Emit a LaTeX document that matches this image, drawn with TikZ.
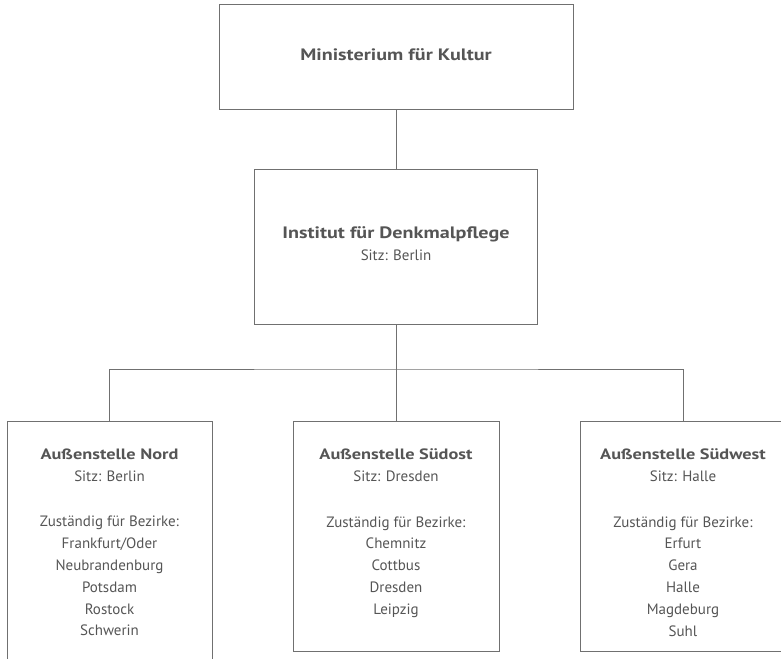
\documentclass[tikz,border=0pt]{standalone}
\usepackage{fontspec}
\setmainfont{PT Sans}[BoldFeatures={FakeStretch=1.22}]
\usetikzlibrary{positioning}
\definecolor{strich}{RGB}{112,112,112}
\definecolor{schrift}{RGB}{85,85,85}
\tikzset{
  amt/.style={draw=strich, line width=1pt, rectangle, inner sep=0pt},
  beschr/.style={text=schrift, align=center, inner sep=0pt, font=\fontsize{15}{21.8}\selectfont},
  verb/.style={draw=strich, line width=1pt}
}

\begin{document}
\begin{tikzpicture}[x=1pt,y=-1pt]
\useasboundingbox (0,0) rectangle (781,658);
\node[amt, minimum width=354pt, minimum height=105pt] (ministerium) at (396,57.5) {};
\node[amt, minimum width=283pt, minimum height=155pt] (institut) at (396,246.5) {};
\node[amt, minimum width=205pt, minimum height=244pt] (nord) at (109.5,543) {};
\node[amt, minimum width=206pt, minimum height=230pt] (suedost) at (396,536) {};
\node[amt, minimum width=206pt, minimum height=230pt] (suedwest) at (683,536) {};
\coordinate (verteiler) at (396,369);
\draw[verb] (ministerium) -- (institut);
\draw[verb] (institut) -- (verteiler);
\draw[verb] (verteiler) -- (suedost);
\draw[verb] (nord.north) |- (verteiler) -| (suedwest.north);
\node[beschr, yshift=3pt] (ministerium text) at (ministerium) {\fontsize{16.5}{22}\selectfont\textbf{Ministerium für Kultur}};
\node[beschr, yshift=3pt] (institut text) at (institut) {{\fontsize{16.5}{22}\selectfont\textbf{Institut für Denkmalpflege}}\\Sitz: Berlin};
\node[beschr, below=28pt of nord.north] (nord text) {\textbf{Außenstelle Nord}\\Sitz: Berlin\\[24pt]Zuständig für Bezirke:\\Frankfurt/Oder\\Neubrandenburg\\Potsdam\\Rostock\\Schwerin};
\node[beschr, below=28pt of suedost.north] (suedost text) {\textbf{Außenstelle Südost}\\Sitz: Dresden\\[24pt]Zuständig für Bezirke:\\Chemnitz\\Cottbus\\Dresden\\Leipzig};
\node[beschr, below=28pt of suedwest.north] (suedwest text) {\textbf{Außenstelle Südwest}\\Sitz: Halle\\[24pt]Zuständig für Bezirke:\\Erfurt\\Gera\\Halle\\Magdeburg\\Suhl};
\end{tikzpicture}
\end{document}
